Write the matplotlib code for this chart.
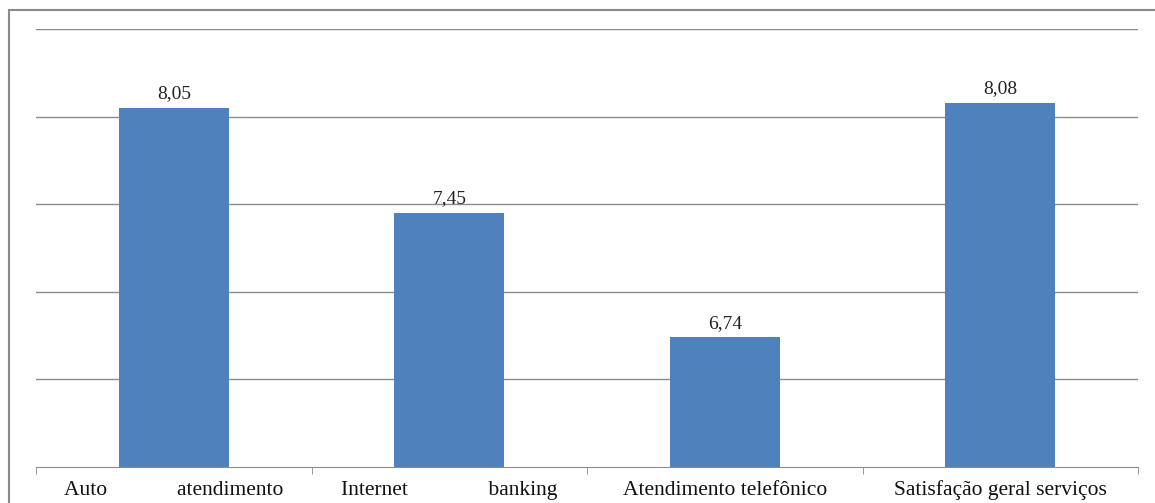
import matplotlib.pyplot as plt
from matplotlib.patches import Rectangle

# categories and scores (comma decimal in the labels)
categories = ["Auto             atendimento", "Internet               banking",
              "Atendimento telefônico", "Satisfação geral serviços"]
values = [8.05, 7.45, 6.74, 8.08]
value_labels = ["8,05", "7,45", "6,74", "8,08"]

plt.rcParams['font.family'] = ['Liberation Serif', 'DejaVu Serif']

fig = plt.figure(figsize=(11.55, 5.03), dpi=100)
ax = fig.add_axes([36/1155, 1 - 467/503, (1138 - 36)/1155, (467 - 29)/503])

x = list(range(len(values)))
bars = ax.bar(x, values, width=0.4, color='#4F81BD', zorder=3)

for b, lab in zip(bars, value_labels):
    ax.annotate(lab, (b.get_x() + b.get_width()/2, b.get_height()),
                xytext=(0, 4), textcoords='offset points',
                ha='center', va='bottom', fontsize=14, color='#222222')

ax.set_ylim(6, 8.5)
ax.set_xlim(-0.5, 3.5)
ax.set_yticks([6.5, 7, 7.5, 8, 8.5])
ax.yaxis.grid(True, color='#8c8c8c', linewidth=1.0, zorder=0)
ax.tick_params(axis='y', left=False, labelleft=False)

# category labels centred, ticks on the boundaries
ax.set_xticks(x)
ax.set_xticklabels(categories, fontsize=15.5, color='#111111')
ax.tick_params(axis='x', length=0, pad=20)
for t in ax.get_xticklabels():
    t.set_verticalalignment('baseline')
ax.set_xticks([-0.5, 0.5, 1.5, 2.5, 3.5], minor=True)
ax.tick_params(axis='x', which='minor', length=5, color='#8c8c8c', direction='out')

for s in ['top', 'right', 'left']:
    ax.spines[s].set_visible(False)
ax.spines['bottom'].set_color('#8c8c8c')

# outer chart frame, cut off on the right and bottom like the source
fig.patches.append(Rectangle((9/1155, -0.1), 1.2, 1.1 - 10/503,
                             transform=fig.transFigure, fill=False,
                             edgecolor='#8a8a8a', linewidth=1.5))

fig.savefig('out.png', dpi=100)
